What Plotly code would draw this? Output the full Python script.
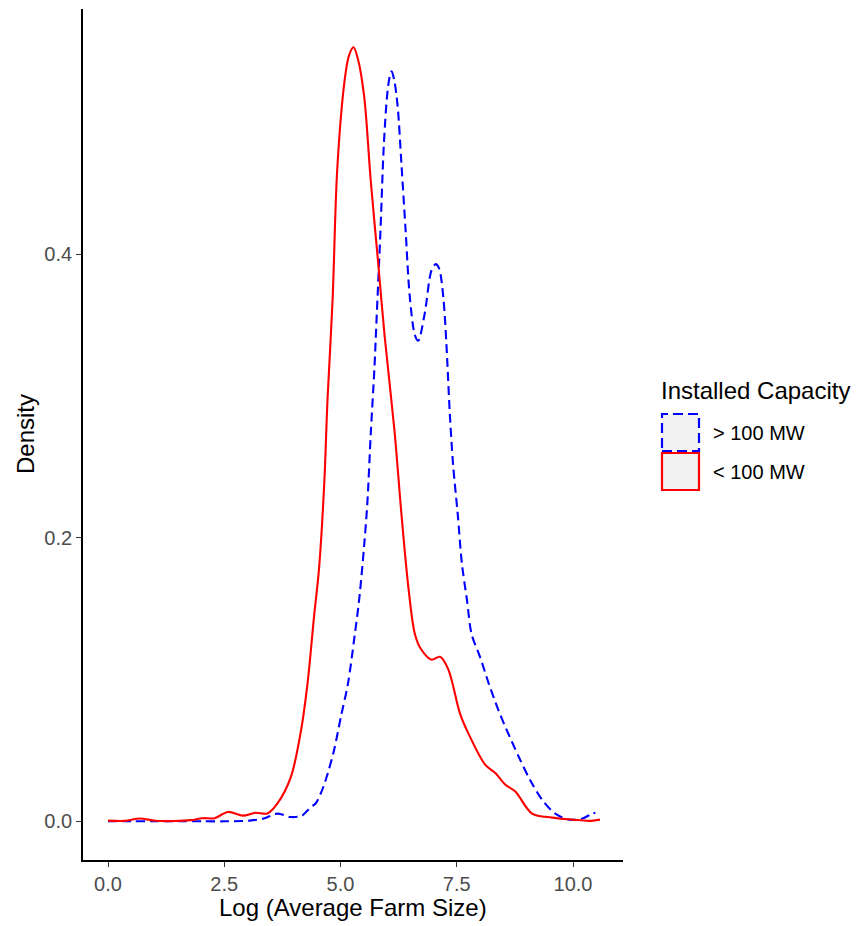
import plotly.graph_objects as go

# ---- data ----
series_names = ["> 100 MW", "< 100 MW"]

big_x = [0.0, 0.51, 1.02, 1.53, 2.03, 2.54, 3.05, 3.35, 3.64, 3.93, 4.17, 4.36, 4.46,
         4.58, 4.69, 4.86, 5.01, 5.16, 5.30, 5.40, 5.51, 5.58, 5.65, 5.73, 5.77,
         5.86, 5.93, 6.00, 6.05, 6.10, 6.16, 6.23, 6.31, 6.40, 6.49, 6.60, 6.67,
         6.81, 6.96, 7.05, 7.12, 7.21, 7.28, 7.35, 7.42, 7.52, 7.61, 7.72, 7.82,
         8.00, 8.19, 8.40, 8.58, 8.84, 9.08, 9.34, 9.62, 9.92, 10.20, 10.41, 10.48]
big_y = [0.0, 0.0, 0.0, 0.0, 0.0, 0.0, 0.0005, 0.002, 0.0054, 0.003, 0.004, 0.010,
         0.0124, 0.020, 0.030, 0.050, 0.074, 0.097, 0.130, 0.156, 0.195, 0.226,
         0.273, 0.320, 0.350, 0.417, 0.476, 0.511, 0.524, 0.529, 0.522, 0.504,
         0.464, 0.417, 0.370, 0.343, 0.339, 0.358, 0.389, 0.393, 0.390, 0.370,
         0.335, 0.288, 0.252, 0.217, 0.182, 0.156, 0.132, 0.116, 0.097, 0.078,
         0.064, 0.045, 0.029, 0.015, 0.0054, 0.0012, 0.0019, 0.0054, 0.006]

small_x = [0.0, 0.36, 0.68, 1.02, 1.42, 1.78, 2.03, 2.29, 2.58, 2.90, 3.17, 3.43, 3.64,
           3.93, 4.14, 4.29, 4.43, 4.54, 4.65, 4.72, 4.83, 4.93, 5.09, 5.18, 5.28,
           5.38, 5.51, 5.65, 5.81, 5.95, 6.16, 6.31, 6.46, 6.60, 6.74, 6.96, 7.14,
           7.32, 7.57, 7.75, 8.11, 8.33, 8.54, 8.76, 9.12, 9.55, 9.99, 10.34, 10.58]
small_y = [0.0005, 0.0003, 0.002, 0.0004, 0.0002, 0.0008, 0.0022, 0.0022, 0.0066,
           0.004, 0.006, 0.0055, 0.0124, 0.031, 0.062, 0.097, 0.144, 0.179, 0.238,
           0.297, 0.368, 0.46, 0.523, 0.540, 0.546, 0.537, 0.511, 0.452, 0.394,
           0.342, 0.276, 0.217, 0.165, 0.132, 0.121, 0.114, 0.116, 0.107, 0.076,
           0.062, 0.040, 0.034, 0.026, 0.021, 0.0054, 0.0026, 0.0012, 0.0003, 0.0012]

x_ticks = [0.0, 2.5, 5.0, 7.5, 10.0]
x_tick_labels = ["0.0", "2.5", "5.0", "7.5", "10.0"]
y_ticks = [0.0, 0.2, 0.4]
y_tick_labels = ["0.0", "0.2", "0.4"]

FONT = "Liberation Sans, Arial, sans-serif"

# page has an 8px body margin; figure is sized to fit the 863x926 window
OFF = 8
FIG_W, FIG_H = 863 - OFF, 926 - OFF

# plot area in page pixels
L, R, T, B = 83, 623, 9, 860
W, H = R - L, B - T

def px(x):
    return (x - L) / W

def py(y):
    return (B - y) / H

fig = go.Figure()
fig.add_trace(go.Scatter(x=big_x, y=big_y, mode="lines", name=series_names[0],
                         line=dict(color="#0000FF", width=2.1, dash="9px,5px",
                                   shape="spline", smoothing=0.9),
                         showlegend=False))
fig.add_trace(go.Scatter(x=small_x, y=small_y, mode="lines", name=series_names[1],
                         line=dict(color="#FF0000", width=2.1, shape="spline",
                                   smoothing=0.9),
                         showlegend=False))

shapes = [
    dict(type="rect", xref="paper", yref="paper",
         x0=px(662), x1=px(699), y0=py(451), y1=py(414),
         fillcolor="#F2F2F2", line=dict(color="#0000FF", width=2.2, dash="10px,5px")),
    dict(type="rect", xref="paper", yref="paper",
         x0=px(662), x1=px(699), y0=py(490), y1=py(453),
         fillcolor="#F2F2F2", line=dict(color="#FF0000", width=2.2)),
]

annotations = [
    dict(text="Installed Capacity", xref="paper", yref="paper", x=px(659), y=py(390),
         xanchor="left", yanchor="middle", showarrow=False,
         font=dict(family=FONT, size=24, color="#000000")),
    dict(text=series_names[0], xref="paper", yref="paper", x=px(711), y=py(433),
         xanchor="left", yanchor="middle", showarrow=False,
         font=dict(family=FONT, size=20, color="#000000")),
    dict(text=series_names[1], xref="paper", yref="paper", x=px(711), y=py(472),
         xanchor="left", yanchor="middle", showarrow=False,
         font=dict(family=FONT, size=20, color="#000000")),
    dict(text="Log (Average Farm Size)", xref="paper", yref="paper", x=0.5, y=py(907),
         xanchor="center", yanchor="middle", showarrow=False,
         font=dict(family=FONT, size=24, color="#000000")),
    dict(text="Density", xref="paper", yref="paper", x=px(25), y=py(434),
         xanchor="center", yanchor="middle", showarrow=False, textangle=-90,
         font=dict(family=FONT, size=24, color="#000000")),
]

# x scale: 0 -> 108 px, 10 -> 573 px
x_per_px = 10.0 / (573 - 108)
x_range = [(L - 108) * x_per_px, (R - 108) * x_per_px]

fig.update_layout(
    width=FIG_W, height=FIG_H, autosize=False,
    margin=dict(l=L - OFF, r=FIG_W - (R - OFF), t=T - OFF, b=FIG_H - (B - OFF), pad=0),
    paper_bgcolor="white", plot_bgcolor="white",
    shapes=shapes, annotations=annotations,
    font=dict(family=FONT),
    xaxis=dict(range=x_range, tickvals=x_ticks, ticktext=x_tick_labels,
               showgrid=False, zeroline=False, showline=True, linecolor="black",
               linewidth=1.7, ticks="outside", ticklen=5, tickcolor="#333333",
               tickwidth=1.2, tickfont=dict(family=FONT, size=20, color="#4D4D4D")),
    yaxis=dict(range=[-0.0273, 0.573], tickvals=y_ticks, ticktext=y_tick_labels,
               showgrid=False, zeroline=False, showline=True, linecolor="black",
               linewidth=1.7, ticks="outside", ticklen=5, tickcolor="#333333",
               tickwidth=1.2, tickfont=dict(family=FONT, size=20, color="#4D4D4D")),
)

fig.write_html("out.html")
